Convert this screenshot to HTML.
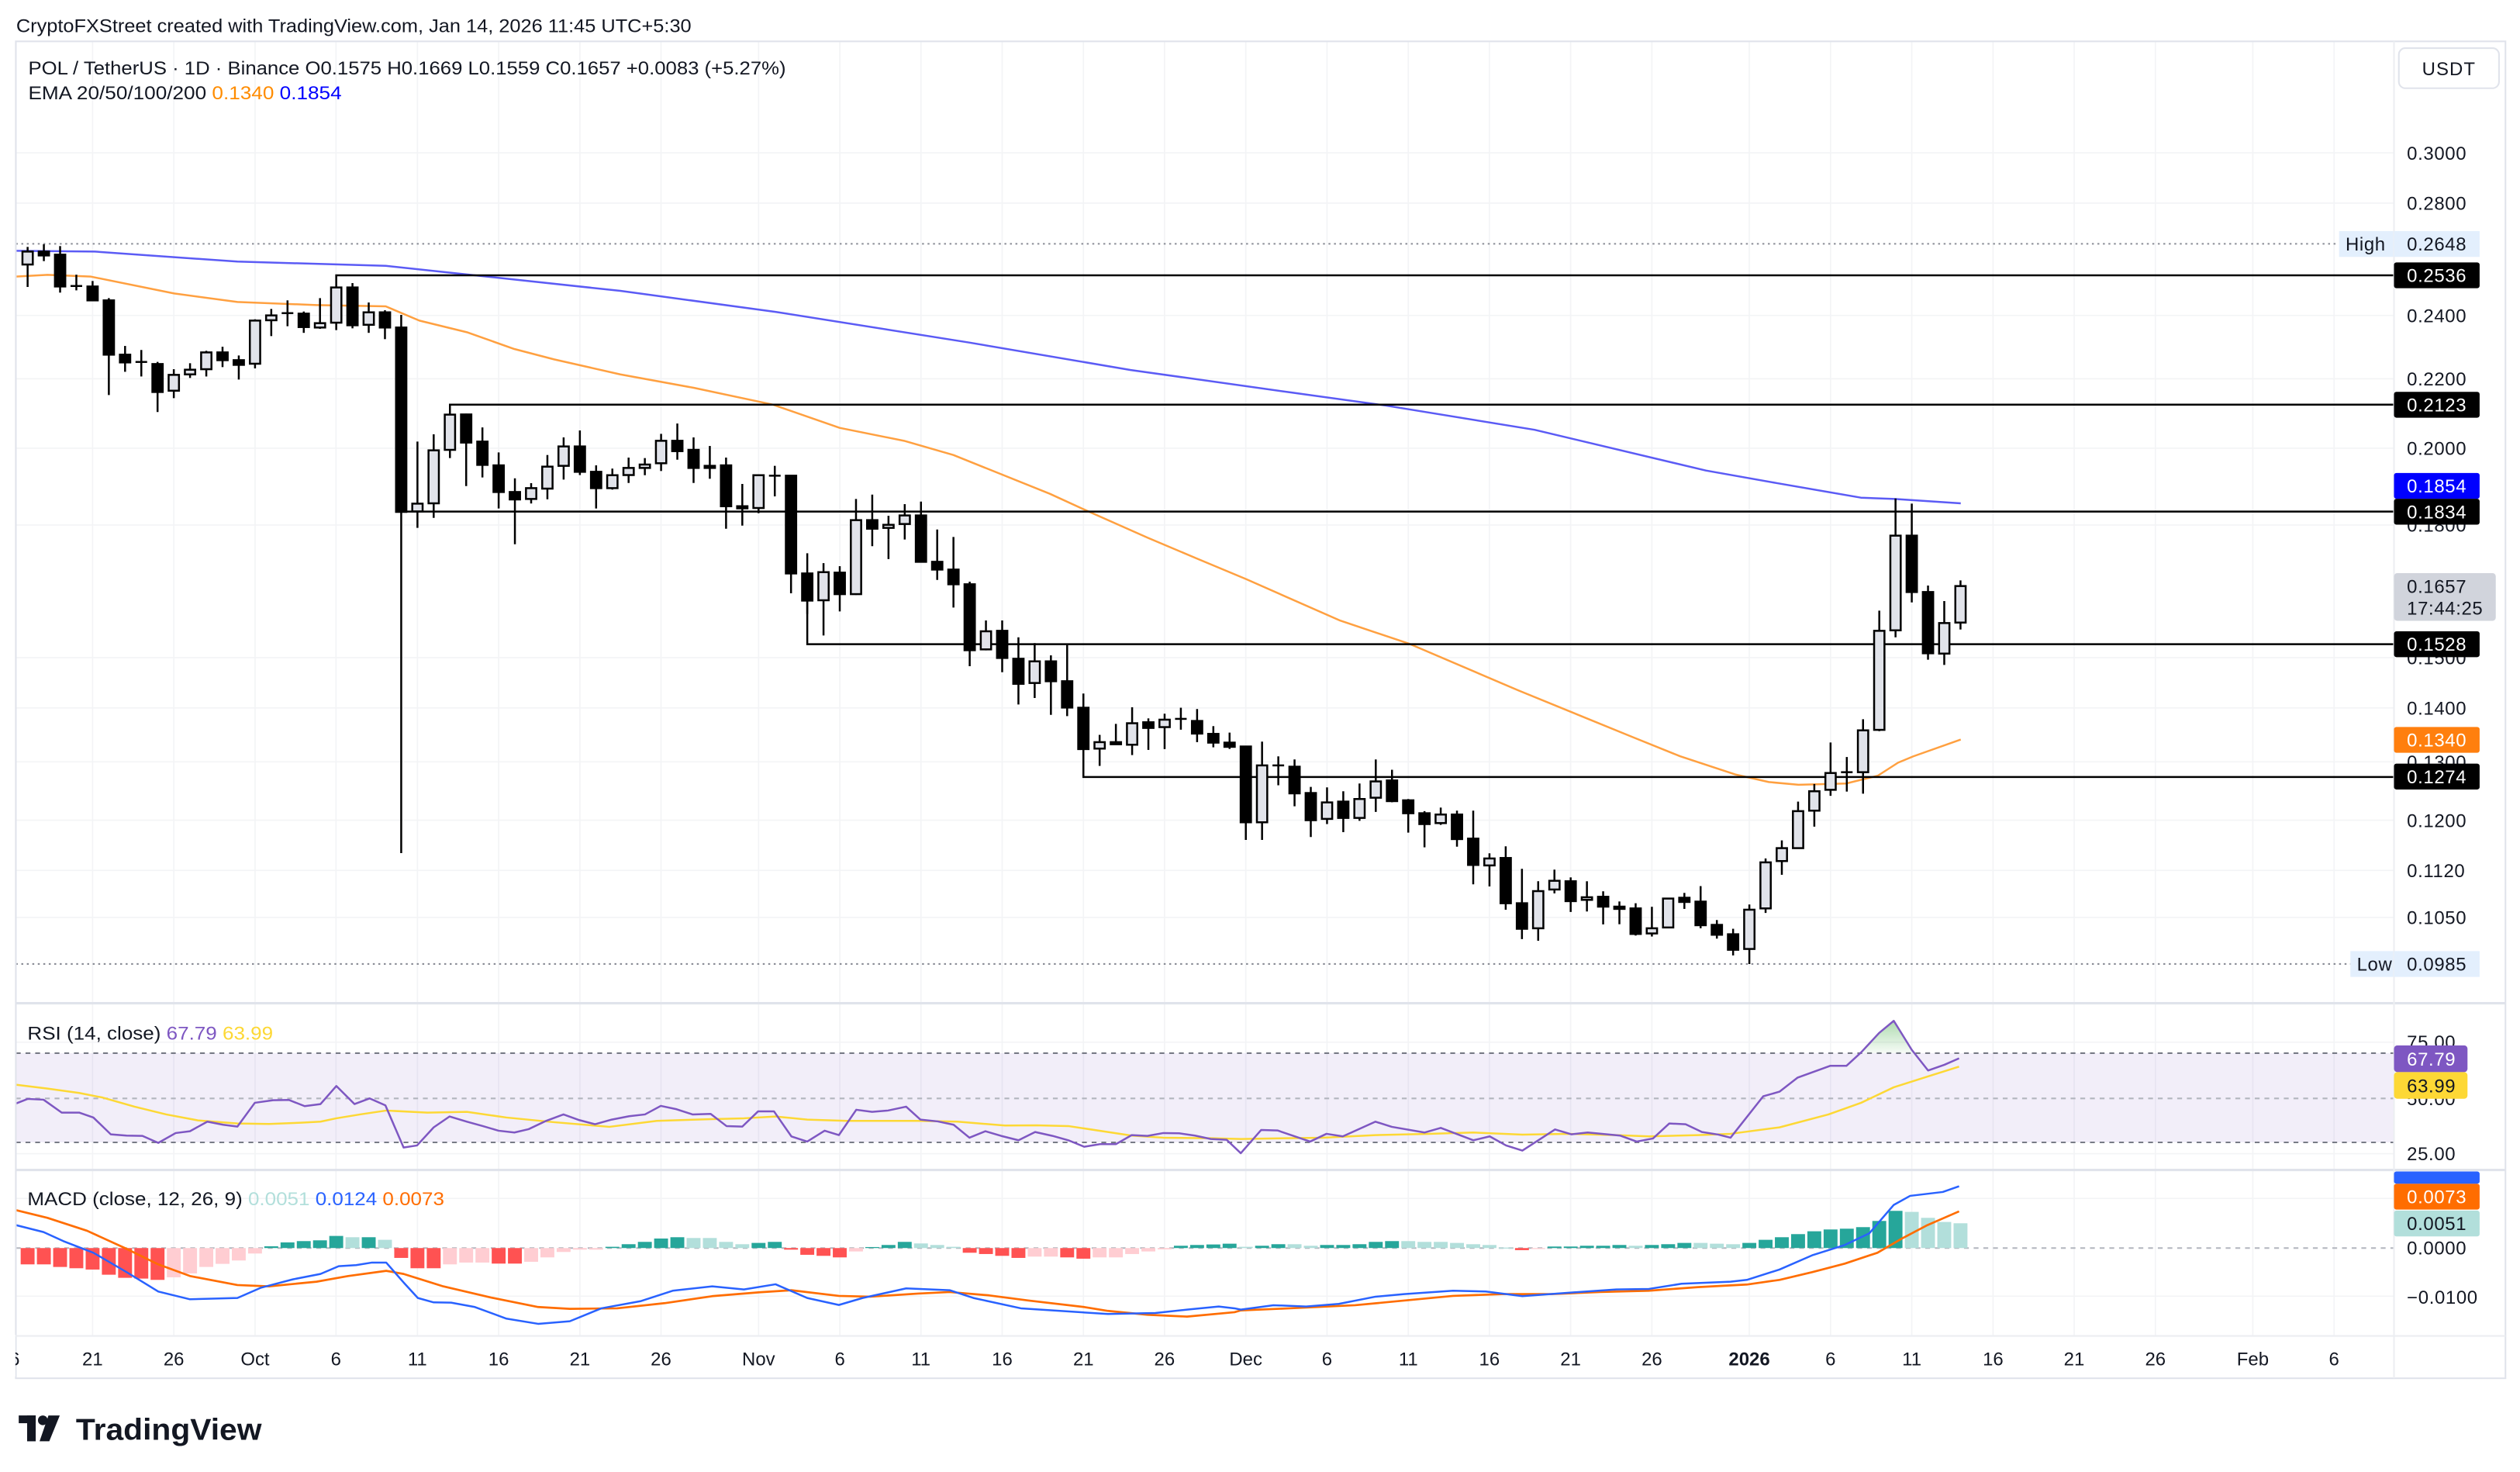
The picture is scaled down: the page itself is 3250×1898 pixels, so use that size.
<!DOCTYPE html>
<html><head><meta charset="utf-8">
<style>
html,body{margin:0;padding:0;background:#fff;}
svg{display:block;}
text{font-family:"Liberation Sans",sans-serif;}
</style></head>
<body>
<svg id="s" xmlns="http://www.w3.org/2000/svg" width="3250" height="1898" viewBox="0 0 1560 911" preserveAspectRatio="none">
<rect x="0" y="0" width="1560" height="911" fill="#fff"/>
<g id="grid"></g>
<rect x="9.8" y="651.8" width="1472.2" height="55.2" fill="#7e57c2" fill-opacity="0.1"/>
<g id="ema"></g>
<g id="levels"></g>
<g id="candles"></g>
<g id="rsi"></g>
<g id="macd"></g>
<rect x="9.8" y="25.6" width="1541.2" height="827.4" fill="none" stroke="#e0e3eb" stroke-width="1"/>
<line x1="9.8" y1="620.9" x2="1551" y2="620.9" stroke="#e0e3eb" stroke-width="1.5"/>
<line x1="9.8" y1="724.1" x2="1551" y2="724.1" stroke="#e0e3eb" stroke-width="1.5"/>
<line x1="9.8" y1="826.8" x2="1551" y2="826.8" stroke="#eceef2" stroke-width="1"/>
<line x1="1482" y1="25.6" x2="1482" y2="853" stroke="#eceef2" stroke-width="1"/>

<text x="10" y="19.8" font-size="11.5" fill="#131722" textLength="418" lengthAdjust="spacingAndGlyphs">CryptoFXStreet created with TradingView.com, Jan 14, 2026 11:45 UTC+5:30</text>
<text x="17.5" y="46" font-size="11.5" fill="#131722" textLength="469" lengthAdjust="spacingAndGlyphs">POL / TetherUS · 1D · Binance  O0.1575  H0.1669  L0.1559  C0.1657  +0.0083 (+5.27%)</text>
<text x="17.5" y="61.5" font-size="11.5" fill="#131722" textLength="194" lengthAdjust="spacingAndGlyphs">EMA 20/50/100/200 <tspan fill="#ff8c00">0.1340</tspan> <tspan fill="#0000ff">0.1854</tspan></text>
<text x="17" y="643.5" font-size="11.5" fill="#131722" textLength="152" lengthAdjust="spacingAndGlyphs">RSI (14, close) <tspan fill="#7e57c2">67.79</tspan> <tspan fill="#fdd835">63.99</tspan></text>
<text x="17" y="746" font-size="11.5" fill="#131722" textLength="258" lengthAdjust="spacingAndGlyphs">MACD (close, 12, 26, 9) <tspan fill="#b2dfdb">0.0051</tspan> <tspan fill="#2962ff">0.0124</tspan> <tspan fill="#ff6d00">0.0073</tspan></text>

<rect x="1485" y="29.8" width="62" height="24.8" rx="4" fill="#fff" stroke="#e0e3eb"/>
<text x="1516" y="46.5" font-size="11.5" fill="#131722" text-anchor="middle" letter-spacing="0.5">USDT</text>

<g font-size="11.5" fill="#131722" letter-spacing="0.3">
<text x="1490" y="98.8">0.3000</text>
<text x="1490" y="129.9">0.2800</text>
<text x="1490" y="199.4">0.2400</text>
<text x="1490" y="238.6">0.2200</text>
<text x="1490" y="281.6">0.2000</text>
<text x="1490" y="329.1">0.1800</text>
<text x="1490" y="411.2">0.1500</text>
<text x="1490" y="442.3">0.1400</text>
<text x="1490" y="475.7">0.1300</text>
<text x="1490" y="511.8">0.1200</text>
<text x="1490" y="542.9">0.1120</text>
<text x="1490" y="572">0.1050</text>
</g>
<g font-size="11.5" letter-spacing="0.3">
<rect x="1448" y="143" width="33.5" height="16" fill="#e3effd"/>
<text x="1452" y="155" fill="#131722">High</text>
<rect x="1482" y="143" width="53" height="16" fill="#e3effd"/>
<text x="1490" y="155" fill="#131722">0.2648</text>
<rect x="1482" y="162.4" width="53" height="16" rx="1.5" fill="#000"/>
<text x="1490" y="174.5" fill="#fff">0.2536</text>
<rect x="1482" y="242.5" width="53" height="16" rx="1.5" fill="#000"/>
<text x="1490" y="254.6" fill="#fff">0.2123</text>
<rect x="1482" y="292.7" width="53" height="16" rx="1.5" fill="#0000ff"/>
<text x="1490" y="304.8" fill="#fff">0.1854</text>
<rect x="1482" y="308.7" width="53" height="16" rx="1.5" fill="#000"/>
<text x="1490" y="320.8" fill="#fff">0.1834</text>
<rect x="1482" y="354.7" width="63" height="29.5" rx="2" fill="#d1d4dc"/>
<text x="1490" y="367" fill="#131722">0.1657</text>
<text x="1490" y="380.5" fill="#131722">17:44:25</text>
<rect x="1482" y="390.7" width="53" height="16" rx="1.5" fill="#000"/>
<text x="1490" y="402.8" fill="#fff">0.1528</text>
<rect x="1482" y="449.9" width="53" height="16" rx="1.5" fill="#ff7f0e"/>
<text x="1490" y="462" fill="#fff">0.1340</text>
<rect x="1482" y="472.6" width="53" height="16" rx="1.5" fill="#000"/>
<text x="1490" y="484.7" fill="#fff">0.1274</text>
<rect x="1455" y="588.6" width="26.5" height="16" fill="#e3effd"/>
<text x="1459" y="600.7" fill="#131722">Low</text>
<rect x="1482" y="588.6" width="53" height="16" fill="#e3effd"/>
<text x="1490" y="600.7" fill="#131722">0.0985</text>

<text x="1490" y="649" fill="#131722">75.00</text>
<text x="1490" y="684" fill="#131722">50.00</text>
<text x="1490" y="718" fill="#131722">25.00</text>
<rect x="1482" y="647" width="45.5" height="16.5" rx="2" fill="#7e57c2"/>
<text x="1490" y="659.5" fill="#fff">67.79</text>
<rect x="1482" y="663.5" width="45.5" height="16.5" rx="2" fill="#fdd835"/>
<text x="1490" y="676" fill="#131722">63.99</text>

<text x="1490" y="776.3" fill="#131722">0.0000</text>
<text x="1490" y="806.8" fill="#131722">−0.0100</text>
<rect x="1482" y="725" width="53" height="7.6" rx="1.5" fill="#2962ff"/>
<rect x="1482" y="732.6" width="53" height="16" rx="1.5" fill="#ff6d00"/>
<text x="1490" y="744.7" fill="#fff">0.0073</text>
<rect x="1482" y="749.2" width="53" height="16" rx="1.5" fill="#b2dfdb"/>
<text x="1490" y="761.3" fill="#131722">0.0051</text>
</g>

<g font-size="11.5" fill="#131722" text-anchor="middle">
<text x="9" y="845">6</text>
<text x="57.3" y="845">21</text>
<text x="107.6" y="845">26</text>
<text x="157.9" y="845">Oct</text>
<text x="208" y="845">6</text>
<text x="258.4" y="845">11</text>
<text x="308.7" y="845">16</text>
<text x="359" y="845">21</text>
<text x="409.2" y="845">26</text>
<text x="469.6" y="845">Nov</text>
<text x="519.9" y="845">6</text>
<text x="570.1" y="845">11</text>
<text x="620.4" y="845">16</text>
<text x="670.7" y="845">21</text>
<text x="720.9" y="845">26</text>
<text x="771.2" y="845">Dec</text>
<text x="821.5" y="845">6</text>
<text x="871.8" y="845">11</text>
<text x="922" y="845">16</text>
<text x="972.3" y="845">21</text>
<text x="1022.6" y="845">26</text>
<text x="1082.9" y="845" font-weight="bold">2026</text>
<text x="1133.2" y="845">6</text>
<text x="1183.5" y="845">11</text>
<text x="1233.8" y="845">16</text>
<text x="1284" y="845">21</text>
<text x="1334.3" y="845">26</text>
<text x="1394.6" y="845">Feb</text>
<text x="1444.9" y="845">6</text>
</g>
<rect x="0" y="826" width="9.5" height="26" fill="#fff"/>

<g fill="#131722">
<rect x="11.6" y="876" width="10.5" height="4.8"/>
<rect x="16.8" y="876" width="5.3" height="16"/>
<circle cx="26.5" cy="879" r="3"/>
<polygon points="30,876 37,876 30.5,892 24.5,892"/>
</g>
<text x="47" y="891" font-size="18.5" font-weight="bold" fill="#131722" textLength="115" lengthAdjust="spacingAndGlyphs">TradingView</text>
</svg>
<script>
(function(){
var NS="http://www.w3.org/2000/svg";
function el(p,t,a){var e=document.createElementNS(NS,t);for(var k in a)e.setAttribute(k,a[k]);p.appendChild(e);return e;}
var G=function(id){return document.getElementById(id);};
var X0=17.1,DX=10.055;
function cx(i){return X0+DX*i;}
var g=G("grid");
var vx=[57.3,107.6,157.9,208,258.4,308.7,359,409.2,469.6,519.9,570.1,620.4,670.7,720.9,771.2,821.5,871.8,922,972.3,1022.6,1082.9,1133.2,1183.5,1233.8,1284,1334.3,1394.6,1444.9];
vx.forEach(function(x){el(g,"line",{x1:x,y1:25.6,x2:x,y2:826.8,stroke:"#f3f4f6","stroke-width":0.8});});
[94.6,125.7,195.2,234.4,277.4,324.9,407,438.1,471.5,507.6,538.7,567.8].forEach(function(y){el(g,"line",{x1:9.8,y1:y,x2:1482,y2:y,stroke:"#f3f4f6","stroke-width":0.8});});
[645,714,741.7,802.2].forEach(function(y){el(g,"line",{x1:9.8,y1:y,x2:1482,y2:y,stroke:"#f3f4f6","stroke-width":0.8});});
var e=G("ema");
var ora=[[9.8,171.2],[29.4,170.1],[56.3,171.2],[107.8,181.6],[147,186.9],[196,188.8],[238.8,189.6],[259.6,198.4],[289,205.6],[318.4,216],[343,222.4],[384,231.7],[429.4,240],[478.4,250.4],[519.8,264.8],[559.6,272.8],[590.2,281.6],[649.9,305.6],[674.4,316.8],[710.5,332.8],[741,345.7],[771.6,358.5],[829.7,384.1],[872.6,398.5],[940,427.3],[1010.5,456.1],[1040,468],[1074.2,479.3],[1095,484],[1113.4,485.7],[1142.8,484.9],[1162.4,480.1],[1175,472],[1184.4,468.1],[1213.8,457.7]];
var blu=[[9.8,155.2],[58.8,155.7],[147,161.9],[238.8,164.5],[294,170.4],[384,180],[480,193],[600,212],[700,229],[800,243],[858,251],[950,266],[1056,291.2],[1100,299],[1152,308],[1173,308.8],[1213.8,311.5]];
function pl(p,pts,st,w){el(p,"polyline",{points:pts.map(function(q){return q[0]+","+q[1];}).join(" "),fill:"none",stroke:st,"stroke-width":w,"stroke-linejoin":"round"});}
pl(e,ora,"#ffa040",1.2);
pl(e,blu,"#5b5bf5",1.2);
var l=G("levels");
el(l,"line",{x1:9.8,y1:150.9,x2:1448,y2:150.9,stroke:"#8a8d96","stroke-width":1,"stroke-dasharray":"1.2,2.2"});
el(l,"line",{x1:9.8,y1:596.6,x2:1455,y2:596.6,stroke:"#8a8d96","stroke-width":1,"stroke-dasharray":"1.2,2.2"});
[[cx(19),177.9,170.4],[cx(26),256.6,250.4],[cx(23),316.6,316.6],[cx(48),371.7,398.7],[cx(65),463.6,480.9]].forEach(function(a){
 el(l,"path",{d:"M"+a[0]+","+a[1]+" V"+a[2]+" H1482",fill:"none",stroke:"#000","stroke-width":1.2});});
var C=[[163.7,155.7,152.8,177.6],[155.7,158.1,151.2,161.6],[157.6,177.3,152.3,181.1],[177,177,170,179.7],[177.3,185.9,173.9,185.9],[185.9,219.5,184.5,244.5],[219.5,224.3,214.1,230.1],[224,224,216.6,233],[225.3,242.6,224,255],[241.8,232,228.5,246.4],[231.7,228.8,224.8,233.9],[228.5,218.1,217.1,233],[218.1,222.9,214.6,227.2],[222.9,225.8,220,234.9],[225.1,198.4,197.6,228],[198.2,195.2,191.2,208],[193.8,193.8,185.9,201.9],[194.1,202.4,192.8,206],[202.7,200,184.5,203.5],[199.7,177.9,177.9,204.3],[177.9,201.3,175.2,203.2],[201,193.3,187.2,206],[193.3,202.7,192,209.9],[202.7,316.8,194.9,528],[316.5,311.7,273.3,326.7],[311.5,278.7,268.8,320.5],[278.4,256.6,256.6,283.5],[256.5,273.9,256,300.8],[273.3,287.7,264.5,295.5],[288,304.5,280,314.7],[304.5,309.1,296,336.8],[308.8,302.1,299,311.6],[302.4,288.8,281.6,309],[288.3,276.3,270.7,296.8],[276.3,292,266.4,294],[292,302.1,288,314.7],[302.1,294.1,290,303],
[294,289.6,283.2,298.9],[289.6,287.5,283.5,294.1],[286.7,272.8,268.5,291.5],[272.8,279.2,262.1,284.5],[278.4,289.6,270.7,298.9],[288.3,289.6,276,296.3],[288,313.3,283.2,327.2],[313.3,314.6,299.5,325.3],[314.4,294.1,293.6,317.6],[294.4,294.4,288.3,307.2],[294.4,354.9,294,367.2],[354.9,371.7,342.4,380],[371.5,354.1,348.5,393.3],[354.4,367.7,350.4,378.4],[367.7,321.9,308.8,368.2],[321.9,327.2,306.1,338],[326.7,324.8,319.2,346],[324.3,319,312,333.9],[319,347.7,310.4,348],[347.7,352.5,327.7,358.9],[352.5,361.6,332.3,376],[361.6,402.4,360,412.3],[401.9,390.7,384,402.5],[390.4,407.2,384,416],[407.7,423.2,394.4,436],[422.7,409.3,398,432],[409.3,421.6,405.6,442.4],[421.6,437.9,399.2,443.2],[438,463.6,429.2,468],
[463.3,459.3,454.8,474],[459.3,460.6,448,461],[460.9,447.6,437.7,467.3],[447,450.5,444.6,464.1],[450,445.4,441.7,463.6],[444.9,444.9,438,451.6],[446.2,454,438.8,459.3],[454.2,459.6,449.4,462.5],[459.6,462.2,453.4,463.5],[462,508.9,461.5,519.8],[508.9,473.7,459,519.8],[473.7,473.7,468.1,486],[474.5,491,470,499],[490.8,507.6,487,518],[506.8,496.6,487.3,510],[496.1,506.2,489.7,515],[506.2,494.5,484.9,508],[493.7,483.6,470,502.5],[483,495.8,476.4,496.5],[495.3,503.3,494.5,515.3],[503.3,510,502,524.4],[509.4,504.1,499.8,510.5],[504.1,519.3,501.7,524],[519,535.3,501.7,547.3],[535.6,531.3,528.1,548.6],[531,559,523.8,563],[559,574.8,537.7,581.2],[574.5,551.5,545.4,582.2],[550.5,545.1,538.2,552.9],[545.4,557.7,543,564.4],[556.9,555.3,545.4,564.1],[555,561.1,551.6,572.1],[561.1,562.5,557.9,572],[562.2,578,559,579],[577.7,574.5,561.2,579.6],[574,556.1,555.6,574.5],[555.6,558.2,552.6,562.5],[558,572.6,548.4,574.5],[572.4,578.5,569.4,580.9],[578.2,587.8,574.8,591.3],[587.3,563,559.8,596.6],[562.2,533.7,531.3,565],[532.9,524.9,520.1,541.4],[524.9,502,496.1,525],[501.7,489.7,485.2,511.6],[488.8,478.4,459.5,492.5],[477.9,477.9,468.5,489.9],[477.9,452,445.1,491.2],[451.7,390.4,377.9,452.5],[390.1,331.5,308.5,394.4],[331.5,366.4,311.7,372.8],[366.4,404.3,362.4,408.3],[404.5,385.6,372,411.5],[385.3,362.7,359.2,389.6]];
var cg=G("candles");
C.forEach(function(c,i){
 var x=cx(i),o=c[0],cl=c[1],h=c[2],lo=c[3];
 var up=cl<o;
 el(cg,"line",{x1:x,y1:h,x2:x,y2:lo,stroke:"#000","stroke-width":1.2});
 var t=Math.min(o,cl),b=Math.max(o,cl);
 if(Math.abs(o-cl)<0.1){el(cg,"line",{x1:x-3.6,y1:t,x2:x+3.6,y2:t,stroke:"#000","stroke-width":1.2});}
 else{ if(b-t<1.2){b=t+1.2;} el(cg,"rect",{x:x-3.2,y:t,width:6.4,height:b-t,fill:up?"#e1e3ea":"#000",stroke:"#000","stroke-width":1.2});}
});
var r=G("rsi");
function z9(a){return a.map(function(q){return [q[0]*0.4899,619.3+q[1]*0.16];});}
function z10(a){return a.map(function(q){return [768.1+q[0]*0.5053,619.3+q[1]*0.16];});}
el(r,"line",{x1:9.8,y1:651.8,x2:1482,y2:651.8,stroke:"#787b86","stroke-width":1,"stroke-dasharray":"3,3"});
el(r,"line",{x1:9.8,y1:679.8,x2:1482,y2:679.8,stroke:"#b2b5be","stroke-width":1,"stroke-dasharray":"3,3"});
el(r,"line",{x1:9.8,y1:707,x2:1482,y2:707,stroke:"#787b86","stroke-width":1,"stroke-dasharray":"3,3"});
var rp=z9([[20,398],[35,380],[55,383],[78,433],[100,433],[118,452],[140,517],[160,522],[180,523],[200,550],[222,512],[240,505],[262,468],[282,480],[300,487],[322,395],[345,385],[365,384],[385,408],[405,400],[425,330],[448,400],[467,378],[487,405],[510,568],[527,560],[548,490],[568,448],[590,468],[610,485],[630,503],[650,510],[668,497],[690,465],[712,440],[732,462],[752,478],[773,460],[795,447],[815,440],[835,407],[855,420],[875,440],[898,438],[918,485],[938,487],[958,428],[978,428],[1000,525],[1020,545],[1042,503],[1060,520],[1082,422],[1102,430],[1122,425],[1145,410],[1163,460],[1185,467],[1205,480],[1225,530],[1245,505],[1265,523],[1287,540],[1308,508],[1330,523],[1350,540],[1370,565],[1390,555],[1410,555],[1430,520],[1450,523],[1470,512],[1490,513],[1510,522],[1530,535],[1550,538]]).concat(z10([[0,590],[25,500],[45,502],[85,545],[105,515],[125,525],[165,468],[185,488],[225,510],[245,492],[285,540],[305,525],[325,560],[345,580],[385,498],[405,517],[425,510],[465,522],[485,545],[505,533],[525,475],[545,478],[565,508],[585,518],[600,530],[640,370],[660,352],[682,298],[722,252],[742,252],[760,200],[782,125],[800,78],[822,190],[842,270],[862,248],[880,223]]));
var yp=z9([[20,325],[60,340],[100,357],[130,375],[170,410],[210,440],[250,463],[300,475],[340,477],[380,472],[405,468],[425,455],[455,440],[488,425],[540,433],[590,430],[640,452],[700,470],[770,488],[830,465],[900,458],[940,455],[980,448],[1020,460],[1070,465],[1160,465],[1210,468],[1270,483],[1310,482],[1350,485],[1400,508],[1430,522],[1470,530],[1530,532]]).concat(z10([[0,535],[100,530],[165,520],[230,515],[285,510],[345,518],[400,515],[460,520],[500,525],[560,520],[600,515],[660,490],[720,440],[760,395],[800,335],[840,295],[880,255]]));
var gf=z10([[759,203],[760,200],[782,125],[800,78],[822,190],[826,203]]);
var defs=el(G("s"),"defs",{});
var lg=el(defs,"linearGradient",{id:"gg",x1:0,y1:0,x2:0,y2:1});
el(lg,"stop",{offset:"0","stop-color":"#4caf50","stop-opacity":"0.45"});
el(lg,"stop",{offset:"1","stop-color":"#4caf50","stop-opacity":"0.05"});
el(r,"polygon",{points:gf.map(function(q){return q[0]+","+q[1];}).join(" "),fill:"url(#gg)"});
pl(r,yp,"#fdd835",1.2);
pl(r,rp,"#7e57c2",1.2);
var m=G("macd");
el(m,"line",{x1:9.8,y1:772.4,x2:1482,y2:772.4,stroke:"#b2b5be","stroke-width":1,"stroke-dasharray":"3,3"});
var H9="R1020 R1020 R1030 R1035 R1040 R1060 R1072 R1075 R1080 P1070 P1055 P1030 P1018 P1005 P978 T950 T935 T930 T927 T910 L915 T915 L925 R995 R1035 R1035 P1020 P1013 P1013 R1017 R1017 P1010 P993 P972 P963 P963 T952 T942 T933 T920 T915 L918 L918 L933 L942 T937 T933 R963 R983 R987 R993 P970 T953 T945 T933 L939 L945 L952 R975 R980 R987 R995 P990 P990 R993 R998 P993 P993 P980 P970 P962 T948 T945 T943 T940 L952 T948 T942 L942 L948 T945 T945 T942 T933 T930 L930 L933 L933 L937 L942 L945 L955 R965 P960 T951 T951 T948 T948 T945 L948 T945 T942 T937 L937 L940 L942 T937 T925 T915 T903 T892 T885 T882 T876 T852 T813 L817 L840 L856 L861".split(" ");
var col={R:"#ff5252",P:"#ffcdd2",T:"#26a69a",L:"#b2dfdb"};
H9.forEach(function(s,i){
 var y=619.3+parseFloat(s.slice(1))*0.16,z=772.4;var x=cx(i);
 el(m,"rect",{x:x-4.3,y:Math.min(y,z),width:8.6,height:Math.max(0.6,Math.abs(y-z)),fill:col[s[0]]});
});
var mb=z9([[20,868],[55,895],[80,930],[118,975],[160,1050],[200,1125],[240,1155],[300,1150],[330,1110],[370,1078],[405,1057],[428,1027],[450,1023],[470,1013],[488,1013],[510,1090],[528,1150],[548,1167],[570,1168],[600,1185],[640,1230],[680,1250],[720,1240],[760,1190],[810,1162],[850,1122],[900,1105],[940,1117],[980,1097],[1020,1150],[1060,1177],[1090,1150],[1145,1113],[1200,1120],[1230,1150],[1290,1190],[1330,1198],[1400,1212],[1460,1208],[1500,1195],[1540,1183],[1560,1190]]).concat(z10([[0,1195],[40,1178],[80,1183],[120,1173],[165,1145],[200,1135],[260,1122],[300,1125],[345,1143],[400,1130],[460,1117],[500,1115],[540,1095],[600,1087],[620,1080],[660,1040],[700,985],[740,945],[770,900],[800,790],[820,755],[860,740],[880,718]]));
var mo=z9([[20,810],[60,840],[110,890],[160,960],[200,1020],[240,1065],[300,1100],[340,1105],[400,1087],[440,1065],[488,1045],[510,1057],[560,1105],[620,1148],[680,1185],[720,1192],[780,1190],[840,1170],[900,1143],[960,1128],[1000,1120],[1060,1142],[1100,1145],[1160,1133],[1200,1127],[1250,1140],[1300,1160],[1370,1185],[1400,1200],[1450,1215],[1500,1222],[1560,1205]]).concat(z10([[0,1198],[60,1190],[140,1178],[200,1160],[260,1142],[320,1135],[380,1135],[440,1127],[500,1122],[560,1108],[620,1098],[660,1080],[700,1050],[740,1017],[780,975],[810,920],[840,870],[880,815]]));
pl(m,mo,"#ff6d00",1.3);
pl(m,mb,"#2962ff",1.2);
})();
</script>
</body></html>
